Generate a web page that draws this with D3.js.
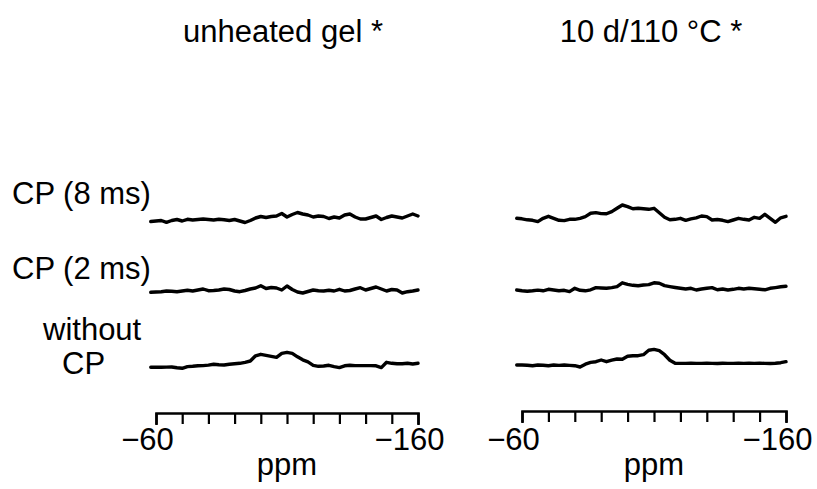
<!DOCTYPE html>
<html><head><meta charset="utf-8">
<script src="https://cdn.jsdelivr.net/npm/d3@7"></script>
<style>
html,body{margin:0;padding:0;background:#fff;}
svg{display:block;}
text{font-family:"Liberation Sans",Arial,Helvetica,sans-serif;fill:#000;}
</style></head>
<body>
<svg id="chart" width="817" height="489"></svg>
<script>
// ---- data ----
const panelTitles = ["unheated gel *", "10 d/110 °C *"];
const rowLabels = ["CP (8 ms)", "CP (2 ms)", "without CP"];
const axisTicks = [-60, -70, -80, -90, -100, -110, -120, -130, -140, -150, -160];
const axisLabelTicks = [-60, -160];
const axisTitle = "ppm";
const ppm = [-58,-60,-62,-64,-66,-68,-70,-72,-74,-76,-78,-80,-82,-84,-86,-88,-90,-92,-94,-96,-98,-100,-102,-104,-106,-108,-110,-112,-114,-116,-118,-120,-122,-124,-126,-128,-130,-132,-134,-136,-138,-140,-142,-144,-146,-148,-150,-152,-154,-156,-158,-160];

// unheated gel
const gelCP8 = [0.5,1,1.5,-0.3,1.5,2.5,1,2.7,2,2.5,3,2.5,2,2.7,2.3,1.5,2.5,1,-0.5,1.5,4,5.5,4.5,5.5,6,8.5,5,7.5,9.5,8,7,5,6,5.5,3.5,5,4,7,8,5,3,3,4.5,6,2.5,4.5,6,5,4,6,8,6];
const gelCP2 = [2.7,3,3.3,4,3.8,3.3,4,4.7,4,5,6,4.3,4.5,5,6,5.5,4,3.3,4.5,6,7,9.3,6.5,7.5,7,5,9,5.5,3,2,3.5,5,4.3,4,4.7,4,5.7,4,4.5,6,7.3,5,6.5,8,6,4,5.5,5,2,3.3,4,5];
const gelNoCP = [1,1,1,1.2,1.3,0.5,0,1.7,2,2.5,2.7,3.2,4,3.5,3.3,4,4.5,5,6,7.3,12.5,14,13,12,11,15,16,15,11.5,8.5,6.5,3,2,2.3,3,1.7,0.7,2.5,3,2.7,2.7,2.7,2.7,2.5,0.7,6,5,4.5,4.5,5,4.3,5];
// 10 d / 110 °C
const heatCP8 = [5,4.5,3.5,3,1.7,5,7,5,3,2.7,4,4,5,6.7,10,10.7,9.7,9.5,11.7,15,18.3,16.7,14.5,15,14.5,14,15,10.5,6,3.5,4,5,3,4.5,5.5,7.3,6.7,3.3,3.8,3,1.7,3.3,5,4,3.3,6,5,9,5,1,5.5,7];
const heatCP2 = [3.3,2.5,2,2.5,3.2,2.5,4,3.3,2.5,3,1.7,5,3,2.5,3.5,5.7,5.3,5,5.7,6.7,10.5,9,8,7.5,8.3,8.7,10.5,10,7.7,6.7,5.8,5,4.3,5,3.3,4.3,5,5.7,3.5,4.3,3.3,4,5,4.3,5,4.5,4,3.5,5,5.7,6.5,7];
const heatNoCP = [1.7,1.7,1.5,1,1.7,1.5,1,1.7,1.3,1.7,1.3,1,-0.3,2.5,4.3,5,6.7,5,6.5,7.7,7.5,10.5,11,11,12,16.5,17.3,16,12,6.5,3.5,3.3,3.3,3.5,3.3,3.3,3.5,3.3,3.2,3.5,3.3,3.3,3.5,3.3,3.5,3.3,3.5,3.3,3.2,3.5,4,5];

const panelSeries = [[gelCP8, gelCP2, gelNoCP], [heatCP8, heatCP2, heatNoCP]];

// ---- layout ----
const svg = d3.select("#chart");
const FS = 31;
const panels = [
  {x0: 156, x1: 418, axisY: 413, titleX: 283, rows: [222, 295, 368.3]},
  {x0: 522, x1: 786, axisY: 411, titleX: 651, rows: [223.3, 293.3, 366.7]}
];
const yScale = d3.scaleLinear().domain([0, 20]).range([0, -20]);

panels.forEach((p, pi) => {
  const x = d3.scaleLinear().domain([-60, -160]).range([p.x0, p.x1]);
  const g = svg.append("g");

  g.append("text").attr("x", p.titleX).attr("y", 42)
    .attr("text-anchor", "middle").attr("font-size", FS).text(panelTitles[pi]);

  const line = d3.line().x((d, i) => x(ppm[i])).y(d => yScale(d));
  panelSeries[pi].forEach((vals, ri) => {
    g.append("path").datum(vals)
      .attr("transform", `translate(0,${p.rows[ri]})`)
      .attr("d", line)
      .attr("fill", "none").attr("stroke", "#000")
      .attr("stroke-width", 3.4).attr("stroke-linejoin", "round").attr("stroke-linecap", "round");
  });

  const axis = d3.axisBottom(x).tickValues(axisTicks).tickSize(11).tickSizeOuter(12)
    .tickFormat(d => axisLabelTicks.includes(d) ? d3.format("")(d).replace("-", "−") : "");
  const ag = g.append("g").attr("transform", `translate(0,${p.axisY})`).call(axis);
  ag.select(".domain").attr("stroke", "#000").attr("stroke-width", 2.6);
  ag.selectAll(".tick line").attr("stroke", "#000").attr("stroke-width", 2.2);
  ag.selectAll(".tick text").attr("y", 450 - p.axisY).attr("dy", 0).attr("dx", -9)
    .attr("font-size", FS).attr("font-family", "Liberation Sans, Arial, sans-serif").attr("fill", "#000");

  g.append("text").attr("x", (p.x0 + p.x1) / 2).attr("y", 475)
    .attr("text-anchor", "middle").attr("font-size", FS).text(axisTitle);
});

// row labels
svg.append("text").attr("x", 12).attr("y", 204).attr("font-size", FS).text(rowLabels[0]);
svg.append("text").attr("x", 12).attr("y", 279).attr("font-size", FS).text(rowLabels[1]);
const parts = rowLabels[2].split(" ");
svg.append("text").attr("x", 43).attr("y", 340).attr("font-size", FS).text(parts[0]);
svg.append("text").attr("x", 62).attr("y", 374).attr("font-size", FS).text(parts[1]);
</script>
</body></html>
